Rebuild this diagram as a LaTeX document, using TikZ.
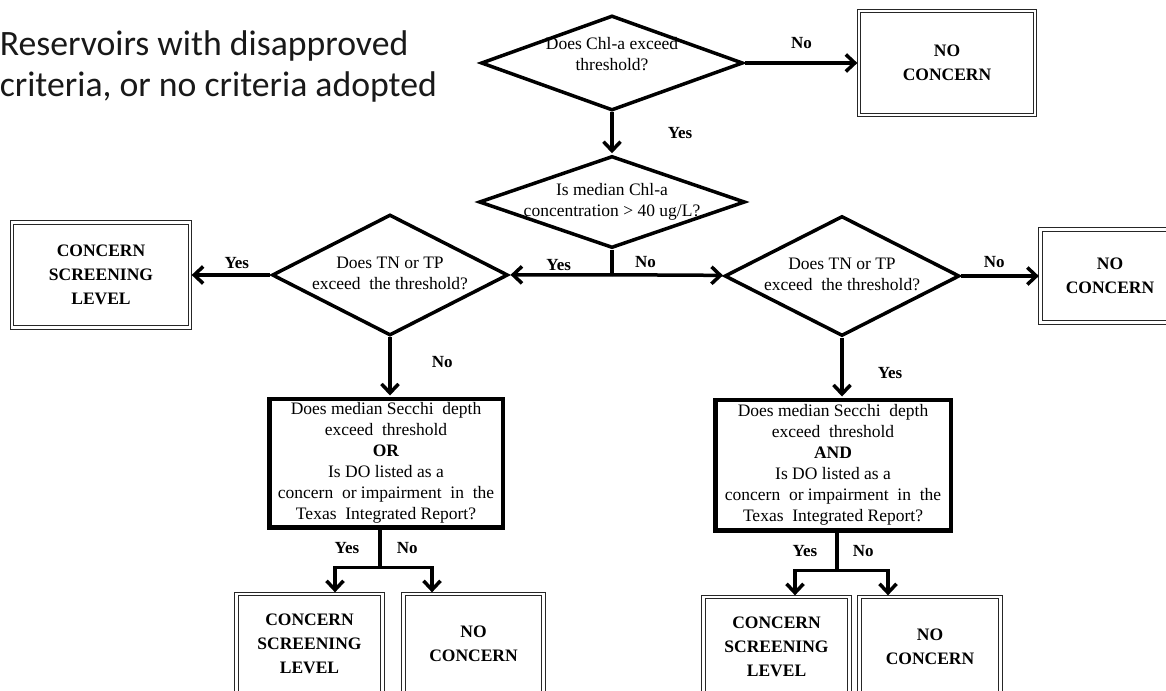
\documentclass[tikz,border=0pt]{standalone}
\usepackage{fontspec}
\setmainfont{Liberation Serif}
\newfontfamily\titlefont{Carlito}
\usetikzlibrary{shapes.geometric,positioning,arrows.meta}
\newcommand{\qtext}[1]{\makebox[0pt]{\begin{tabular}{@{}c@{}}#1\end{tabular}}}

\begin{document}
\begin{tikzpicture}[x=1pt,y=1pt,shorten >=1pt,on grid,line width=3.5pt,
	>={Straight Barb[length=9pt,width=17pt]},
	decision/.style={diamond,draw,inner sep=0pt,font=\fontsize{17.5}{21}\selectfont},
	query/.style={rectangle,draw,line width=4.5pt,inner sep=0pt,align=center,font=\fontsize{17.5}{21}\selectfont},
	outcome/.style={rectangle,draw=black!85,double,double distance=2.2pt,line width=1.3pt,inner sep=0pt,align=center,font=\fontsize{17.5}{24}\selectfont\bfseries},
	lbl/.style={inner sep=1pt,font=\fontsize{17}{20}\selectfont\bfseries}]
	\useasboundingbox (0,0) rectangle (1166,-690);
	\clip (0,0) rectangle (1166,-690);
	\node[anchor=west,align=left,inner sep=0pt,text=black!90,font=\titlefont\fontsize{35.7}{41}\selectfont] (title) at (-2,-66) {Reservoirs with disapproved\\criteria, or no criteria adopted};
	\node[decision,minimum width=262pt,minimum height=95pt] (d1) at (612,-63) {\raisebox{2.5pt}[0pt][0pt]{\qtext{Does Chl-a exceed\\threshold?}}};
	\node[outcome,minimum width=176pt,minimum height=104pt] (nc1) [right=335pt of d1] {NO\\CONCERN};
	\node[decision,minimum width=266pt,minimum height=92pt] (d2) [below=139pt of d1] {\qtext{Is median Chl-a\\concentration > 40 ug/L?}};
	\node[decision,minimum width=236pt,minimum height=121pt] (dl) [below left=73pt and 222pt of d2] {\qtext{Does TN or TP\\exceed~ the threshold?}};
	\node[decision,minimum width=235pt,minimum height=120pt] (dr) [below right=74pt and 230pt of d2] {\qtext{Does TN or TP\\exceed~ the threshold?}};
	\node[outcome,minimum width=178pt,minimum height=105pt] (csl) [left=289pt of dl] {CONCERN\\SCREENING\\LEVEL};
	\node[outcome,minimum width=139pt,minimum height=93pt] (nc2) [right=268pt of dr] {NO\\CONCERN};
	\node[query,minimum width=233.5pt,minimum height=128.5pt] (rl) [below left=188pt and 4pt of dl] {Does median Secchi~ depth\\exceed~ threshold\\\textbf{OR}\\Is DO listed as a\\concern~ or impairment~ in~ the\\Texas~ Integrated Report?};
	\node[query,minimum width=235.5pt,minimum height=130.5pt] (rr) [below left=189pt and 9pt of dr] {Does median Secchi~ depth\\exceed~ threshold\\\textbf{AND}\\Is DO listed as a\\concern~ or impairment~ in~ the\\Texas~ Integrated Report?};
	\node[outcome,minimum width=146pt,minimum height=100pt] (csl2) [below left=181pt and 76.5pt of rl] {CONCERN\\SCREENING\\LEVEL};
	\node[outcome,minimum width=140pt,minimum height=100pt] (ncl2) [right=164pt of csl2] {NO\\CONCERN};
	\node[outcome,minimum width=146pt,minimum height=100pt] (csr2) [below left=182pt and 56.5pt of rr] {CONCERN\\SCREENING\\LEVEL};
	\node[outcome,minimum width=141pt,minimum height=100pt] (ncr2) [right=153.5pt of csr2] {NO\\CONCERN};
	\draw (d2.south) -- ++(0,-25) coordinate (j0);
	\path[->]
	(d1) edge node[lbl,above=12pt] (l1) {No} (nc1)
	edge node[lbl,right=53pt] (l2) {Yes} (d2)
	(j0) edge node[lbl,above=1pt,pos=.52] (l3) {Yes} (dl)
	edge node[lbl,above=5pt,pos=.3] (l4) {No} (dr)
	(dl) edge node[lbl,above=4pt,pos=.42] (l5) {Yes} (csl)
	(dr) edge node[lbl,above=6pt,pos=.42] (l6) {No} (nc2)
	(dl.south) edge node[lbl,right=39pt,pos=.42] (l7) {No} (dl.south |- rl.north)
	(dr.south) edge node[lbl,right=33pt,pos=.59] (l8) {Yes} (dr.south |- rr.north);
	\draw ([xshift=-6pt]rl.south) -- node[lbl,left=18pt] (l9) {Yes} node[lbl,right=14pt] (l10) {No} ++(0,-38) coordinate (j1);
	\draw[->] (j1) -| ([xshift=25.5pt]csl2.north);
	\draw[->] (j1) -| ([xshift=-41.5pt]ncl2.north);
	\draw ([xshift=4pt]rr.south) -- node[lbl,left=17pt] (l11) {Yes} node[lbl,right=13pt] (l12) {No} ++(0,-38) coordinate (j2);
	\draw[->] (j2) -| ([xshift=18.5pt]csr2.north);
	\draw[->] (j2) -| ([xshift=-42pt]ncr2.north);
\end{tikzpicture}
\end{document}
